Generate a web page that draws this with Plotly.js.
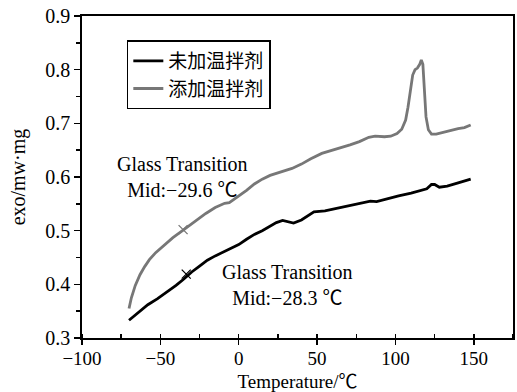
<!DOCTYPE html>
<html>
<head>
<meta charset="utf-8">
<script src="https://cdn.plot.ly/plotly-3.0.1.min.js"></script>
<style>html,body{margin:0;padding:0;background:#fff;}#chart{width:517px;height:392px;}</style>
</head>
<body>
<div id="chart"></div>
<script>
// Data
const seriesNames = ["未加温拌剂", "添加温拌剂"];

const blackTemp = [-70,-67,-63,-58,-52,-46,-40,-35,-30,-25,-20,-15,-10,-5,0,5,10,15,20,24,28,32,35,40,45,48,55,62,70,78,84,88,95,102,110,117,120,123,125,128,133,140,148];
const blackHeat = [0.333,0.340,0.350,0.362,0.373,0.385,0.398,0.410,0.423,0.434,0.445,0.453,0.460,0.467,0.474,0.484,0.493,0.500,0.508,0.515,0.519,0.516,0.514,0.520,0.530,0.535,0.537,0.541,0.546,0.551,0.555,0.554,0.560,0.565,0.570,0.575,0.578,0.586,0.586,0.581,0.583,0.589,0.596];

const grayTemp = [-70,-68.5,-66,-63,-60,-57,-53,-48,-42,-35,-28,-21,-15,-9,-6,-3,0,5,10,15,20,27,34,40,46,53,60,66,71,77,83,87,93,97,101,104,106.5,108,109.7,111,112.5,114,115.5,116.5,117.5,118.5,119.5,121,123,126,130,135,140,144,148];
const grayHeat = [0.355,0.375,0.398,0.418,0.433,0.446,0.459,0.472,0.487,0.502,0.517,0.532,0.543,0.551,0.552,0.558,0.565,0.575,0.587,0.596,0.603,0.610,0.616,0.624,0.634,0.644,0.650,0.655,0.660,0.666,0.674,0.676,0.675,0.676,0.681,0.689,0.706,0.730,0.762,0.790,0.800,0.803,0.810,0.818,0.810,0.770,0.712,0.688,0.680,0.680,0.683,0.686,0.690,0.692,0.697];

// Glass transition marks
const tgTemp = [-33.5, -35.5];
const tgHeat = [0.419, 0.502];
const tgLabels = ["Glass Transition<br>Mid:−28.3 ℃", "Glass Transition<br>Mid:−29.6 ℃"];
const tgLabelX = [31, -36];
const tgLabelY = [0.398, 0.600];

const xTicks = [-100, -50, 0, 50, 100, 150];
const yTicks = [0.3, 0.4, 0.5, 0.6, 0.7, 0.8, 0.9];

const serif = '"Liberation Serif", "Times New Roman", "Noto Sans CJK SC", serif';
const colors = ["#000000", "#777777"];

const traces = [
  {x: blackTemp, y: blackHeat, name: seriesNames[0], type: "scatter", mode: "lines",
   line: {color: colors[0], width: 2.8}},
  {x: grayTemp, y: grayHeat, name: seriesNames[1], type: "scatter", mode: "lines",
   line: {color: colors[1], width: 2.8}},
  {x: [tgTemp[0]], y: [tgHeat[0]], type: "scatter", mode: "markers", showlegend: false,
   marker: {symbol: "x-thin-open", size: 9, color: colors[0], line: {width: 1.3, color: colors[0]}}},
  {x: [tgTemp[1]], y: [tgHeat[1]], type: "scatter", mode: "markers", showlegend: false,
   marker: {symbol: "x-thin-open", size: 9, color: colors[1], line: {width: 1.3, color: colors[1]}}}
];

const annotations = tgLabels.map((t, i) => ({
  x: tgLabelX[i], y: tgLabelY[i], xref: "x", yref: "y", text: t, showarrow: false,
  align: "center", font: {family: serif, size: 20, color: "#000"}
}));

const layout = {
  width: 517, height: 392,
  margin: {l: 82, r: 4, t: 16, b: 54},
  paper_bgcolor: "#fff", plot_bgcolor: "#fff",
  font: {family: serif, size: 20, color: "#000"},
  showlegend: true,
  legend: {
    x: 0.104, y: 0.924, xanchor: "left", yanchor: "top",
    bgcolor: "#fff", bordercolor: "#000", borderwidth: 1.5,
    font: {family: '"Noto Sans CJK SC", serif', size: 19, color: "#000"},
    tracegroupgap: 0, itemwidth: 30
  },
  xaxis: {
    range: [-100, 175], tickvals: xTicks, ticktext: xTicks.map(v => v < 0 ? "−" + Math.abs(v) : String(v)),
    showgrid: false, zeroline: false,
    showline: true, linecolor: "#000", linewidth: 1.8, mirror: true,
    ticks: "outside", ticklen: 5, tickwidth: 1.5, tickcolor: "#000",
    ticklabelstandoff: -3,
    minor: {dtick: 25, tick0: -100, ticks: "inside", ticklen: 4, tickwidth: 1.5, tickcolor: "#000", showgrid: false},
    tickfont: {family: serif, size: 19},
    title: {text: "Temperature/℃", font: {family: serif, size: 19}, standoff: 8}
  },
  yaxis: {
    range: [0.3, 0.9], tickvals: yTicks, ticktext: yTicks.map(v => v.toFixed(1)),
    showgrid: false, zeroline: false,
    showline: true, linecolor: "#000", linewidth: 1.8, mirror: true,
    ticks: "outside", ticklen: 6, tickwidth: 1.5, tickcolor: "#000",
    minor: {dtick: 0.05, tick0: 0.3, ticks: "outside", ticklen: 4, tickwidth: 1.5, tickcolor: "#000", showgrid: false},
    tickfont: {family: serif, size: 20},
    title: {text: "exo/mw·mg", font: {family: serif, size: 20}, standoff: 14}
  },
  annotations: annotations
};

Plotly.newPlot("chart", traces, layout, {displayModeBar: false, staticPlot: true});
</script>
</body>
</html>
